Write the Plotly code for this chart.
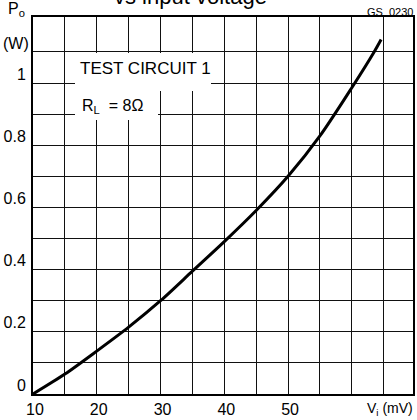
import plotly.graph_objects as go

# Data (Vi in mV, Po in W)
vi_mv = [10, 15, 20, 25, 30, 35, 40, 45, 50, 55, 60, 63.5, 64.6]
po_w = [0.0, 0.064, 0.138, 0.215, 0.300, 0.395, 0.490, 0.590, 0.700, 0.830, 0.985, 1.100, 1.140]

x_tickvals = [10, 20, 30, 40, 50]
x_ticktext = ["10", "20", "30", "40", "50"]
x_minorvals = [15, 25, 35, 45, 55, 60, 65]
y_tickvals = [0, 0.2, 0.4, 0.6, 0.8, 1.0]
y_ticktext = ["0", "0.2", "0.4", "0.6", "0.8", "1"]
y_minorvals = [0.1, 0.3, 0.5, 0.7, 0.9, 1.1]

FONT = "Liberation Sans, Arial, sans-serif"

W, H = 417, 420
ML, MR, MT, MB = 33, 4, 17, 26
PW, PH = W - ML - MR, H - MT - MB
XR = [10, 69.6]
YR = [0, 1.2125]


def px(xp):
    return (xp - ML) / PW


def py(yp):
    return (H - MB - yp) / PH


def dx(xp):
    return XR[0] + (xp - ML) / PW * (XR[1] - XR[0])


def dy(yp):
    return (H - MB - yp) / PH * YR[1]


fig = go.Figure()
fig.add_trace(go.Scatter(
    x=vi_mv, y=po_w, mode="lines",
    line=dict(color="black", width=3, shape="spline", smoothing=0.8),
    hoverinfo="skip", showlegend=False,
))

GRID = "#111111"
axis_common = dict(
    showgrid=True, gridcolor=GRID, gridwidth=1.3,
    showline=True, linecolor="black", linewidth=2, mirror=True,
    zeroline=False, ticks="", ticklen=0, fixedrange=True, automargin=False,
    tickfont=dict(family=FONT, size=16, color="black"),
)

fig.update_xaxes(range=XR, tickvals=x_tickvals, ticktext=x_ticktext,
                 ticklabelshift=2, ticklabelstandoff=0,
                 minor=dict(tickvals=x_minorvals, showgrid=True, gridcolor=GRID, gridwidth=1.3, ticks=""),
                 **axis_common)
fig.update_yaxes(range=YR, tickvals=y_tickvals, ticktext=y_ticktext,
                 ticklabelshift=-9, ticklabelstandoff=2,
                 minor=dict(tickvals=y_minorvals, showgrid=True, gridcolor=GRID, gridwidth=1.3, ticks=""),
                 **axis_common)

# White mask behind the text block
for (x0, x1, y0, y1) in [(75, 211, 53, 91), (75, 158, 89, 120)]:
    fig.add_shape(type="rect", xref="x", yref="y",
                  x0=dx(x0), x1=dx(x1), y0=dy(y1), y1=dy(y0),
                  fillcolor="white", line=dict(width=0), layer="above")

ann = []
ann.append(dict(text="TEST CIRCUIT 1", x=dx(145), y=dy(68), xref="x", yref="y",
                xanchor="center", yanchor="middle", showarrow=False,
                font=dict(family=FONT, size=17, color="black")))
ann.append(dict(text="R<sub>L</sub>\u00a0\u00a0= 8\u03a9", x=dx(80), y=dy(106), xref="x", yref="y",
                xanchor="left", yanchor="middle", showarrow=False,
                font=dict(family=FONT, size=16, color="black")))
ann.append(dict(text="vs input voltage", x=px(190), y=py(-3), xref="paper", yref="paper",
                xanchor="center", yanchor="middle", showarrow=False,
                font=dict(family=FONT, size=22, color="black")))
ann.append(dict(text="GS  0230", x=px(390), y=py(12), xref="paper", yref="paper",
                xanchor="center", yanchor="middle", showarrow=False,
                font=dict(family=FONT, size=11, color="black")))
ann.append(dict(text="P<sub>o</sub>", x=px(16), y=py(9), xref="paper", yref="paper",
                xanchor="center", yanchor="middle", showarrow=False,
                font=dict(family=FONT, size=16, color="black")))
ann.append(dict(text="(W)", x=px(16), y=py(44), xref="paper", yref="paper",
                xanchor="center", yanchor="middle", showarrow=False,
                font=dict(family=FONT, size=16, color="black")))
ann.append(dict(text="V<sub>i</sub> (mV)", x=px(415), y=py(409), xref="paper", yref="paper",
                xanchor="right", yanchor="middle", showarrow=False,
                font=dict(family=FONT, size=14, color="black")))

fig.update_layout(
    width=W, height=H,
    margin=dict(l=ML, r=MR, t=MT, b=MB, pad=0, autoexpand=False),
    paper_bgcolor="white", plot_bgcolor="white",
    annotations=ann,
    showlegend=False,
)

fig.write_html("out.html", include_plotlyjs=True, config={"displayModeBar": False},
               post_script="document.body.style.margin='0';document.body.style.padding='0';document.body.style.overflow='hidden';")
